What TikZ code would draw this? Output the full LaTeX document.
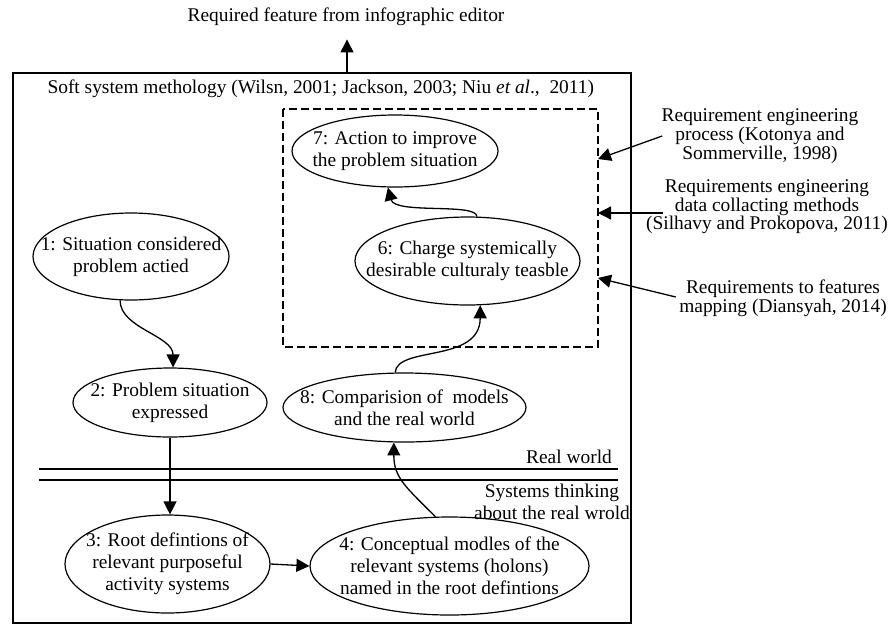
\documentclass[tikz,border=0pt]{standalone}
\usepackage{fontspec}
\setmainfont{Liberation Serif}
\usepackage{tikz}
\usetikzlibrary{arrows.meta,shapes.geometric}

\tikzset{
	stage/.style={ellipse, draw, line width=1.2pt, inner xsep=-25pt, inner ysep=-10pt, align=center},
	link/.style={line width=1.3pt},
	note/.style={align=center, font=\fontsize{19.4}{16.7}\selectfont},
}

\begin{document}
\begin{tikzpicture}[x=1pt, y=-1pt, >={Triangle[length=13pt,width=13pt]}, font=\fontsize{19.4}{22}\selectfont]
		\useasboundingbox (0,0) rectangle (896,625);
		%frame
		\node (title) at (346,17) {Required feature from infographic editor};
		\coordinate (boxtop) at (347,73);
		\draw [link] (13,73) rectangle (631,623);
		\draw [link,->,shorten >=10pt] (boxtop) -- (boxtop |- title.south);
		\node [anchor=west] (ssm) at (44,89) {Soft system methology (Wilsn, 2001; Jackson, 2003; Niu \textit{et al}.,\ \ 2011)};
		\draw [line width=1.3pt, dash pattern=on 8pt off 4pt] (283,109) rectangle (598,347);
		%stages
		\node [stage, minimum width=196pt, minimum height=87pt] (s1) at (131,256.5) {1: Situation considered\\problem actied};
		\node [stage, minimum width=194pt, minimum height=69pt] (s2) at (170,402.5) {2: Problem situation\\expressed};
		\node [stage, minimum width=205pt, minimum height=98pt] (s3) at (167.5,564) {3: Root defintions of\\relevant purposeful\\activity systems};
		\node [stage, minimum width=279pt, minimum height=98pt] (s4) at (449.5,566) {4: Conceptual modles of the\\relevant systems (holons)\\named in the root defintions};
		\node [stage, minimum width=225pt, minimum height=88pt] (s6) at (467.5,261) {6: Charge systemically\\desirable culturaly teasble};
		\node [stage, minimum width=206pt, minimum height=72pt] (s7) at (395,151) {7: Action to improve\\the problem situation};
		\node [stage, minimum width=243pt, minimum height=69pt] (s8) at (404.5,407.5) {8: Comparision of\ \ models\\and the real world};
		%links
		\draw [link,->] (s1.256) .. controls +(0,28) and +(0,-32) .. (s2.85);
		\draw [link,->] (s2.south) -- (s2.south |- s3.north);
		\draw [link,->] (s3.east) -- (s4.west);
		\draw [link,->] (s4.106) .. controls +(-30,-30) and +(0,35) .. (s8.253);
		\draw [link,->] (s8.105) .. controls +(2,-27) and +(0,58) .. (s6.286);
		\draw [link,->] (s6.78) .. controls +(0,-14) and +(7,27) .. (s7.259);
		%real world
		\draw [line width=2pt] (39,469) -- (618,469);
		\draw [line width=1.2pt] (39,480) -- (618,480);
		\node (rw) at (569,457) {Real world};
		\node [align=center] (st) at (552,502) {Systems thinking\\about the real wrold};
		%notes
		\node [note] (n1) at (760,136) {Requirement engineering\\process (Kotonya and\\Sommerville, 1998)};
		\node [note] (n2) at (767,207) {Requirements engineering\\data collacting methods\\(Silhavy and Prokopova, 2011)};
		\node [note] (n3) at (783,298) {Requirements to features\\mapping (Diansyah, 2014)};
		\coordinate (k1) at (598,159);
		\coordinate (k2) at (598,213);
		\coordinate (k3) at (598,278);
		\draw [link,->] ([xshift=4pt]n1.west) -- (k1);
		\draw [link,->] ([xshift=20pt,yshift=-6pt]n2.west) -- (k2);
		\draw [link,->] ([yshift=1pt]n3.west) -- (k3);
\end{tikzpicture}
\end{document}
